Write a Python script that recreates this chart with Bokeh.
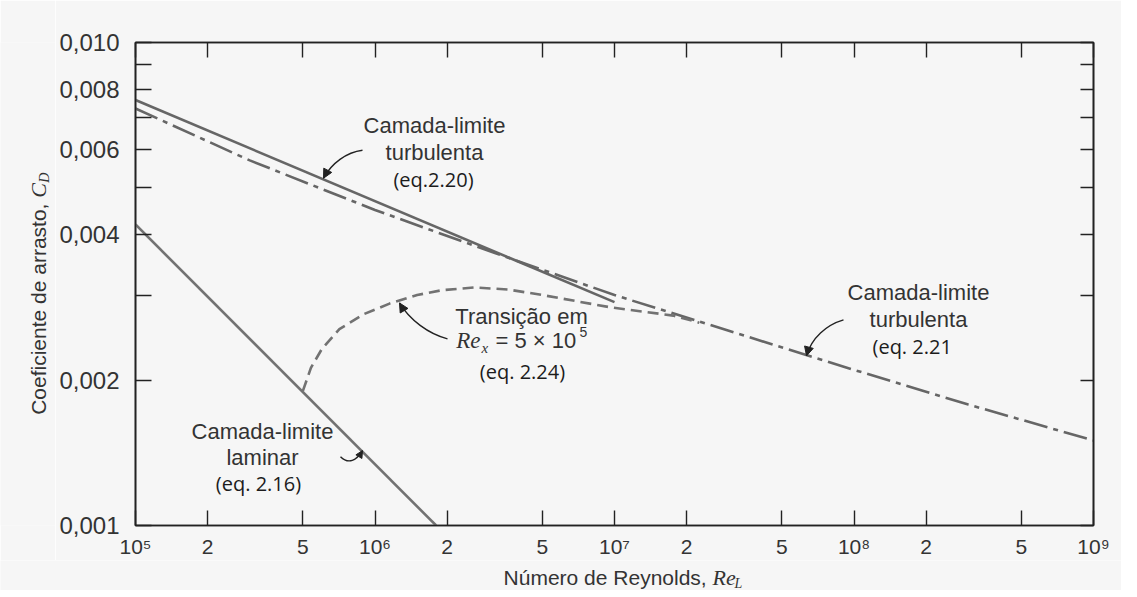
import math
from bokeh.plotting import figure
from bokeh.layouts import row, column
from bokeh.models import (FixedTicker, CustomJSTickFormatter, LogAxis, Label,
                          Arrow, NormalHead)
from bokeh.embed import file_html
from bokeh.resources import INLINE

# ---------------- data ----------------
x_ticks = [1e5, 2e5, 5e5, 1e6, 2e6, 5e6, 1e7, 2e7, 5e7, 1e8, 2e8, 5e8, 1e9]
x_tick_labels = ["10⁵", "2", "5", "10⁶", "2", "5", "10⁷", "2", "5",
                 "10⁸", "2", "5", "10⁹"]
y_ticks = [0.001, 0.002, 0.003, 0.004, 0.005, 0.006, 0.007, 0.008, 0.009, 0.010]
y_tick_labels = ["0,001", "0,002", "", "0,004", "", "0,006", "", "0,008", "", "0,010"]

# laminar boundary layer (eq. 2.16)
laminar_re = [1e5, 1.8e6]
laminar_cd = [0.0042, 0.001]

# turbulent boundary layer (eq. 2.20), solid
turb220_re = [1e5, 1e7]
turb220_cd = [0.0076, 0.0029]

# turbulent boundary layer (eq. 2.21), dash-dot
turb221_re = [1e5, 3e5, 1e6, 3e6, 1e7, 3e7, 1e8, 3e8, 1e9]
turb221_cd = [0.0073, 0.0057, 0.0045, 0.0037, 0.0030, 0.00253, 0.0021, 0.00178, 0.0015]

# transition at Re_x = 5e5 (eq. 2.24), dashed
trans_re = [5e5, 5.4e5, 6.0e5, 7.1e5, 9.0e5, 1.15e6, 1.5e6, 1.9e6, 2.6e6, 3.6e6,
            5e6, 9.6e6, 1.76e7, 2.26e7]
trans_cd = [0.0019, 0.00212, 0.00232, 0.00255, 0.00274, 0.00288, 0.00300, 0.00307,
            0.00311, 0.00308, 0.0030, 0.00283, 0.00272, 0.00263]

# ---------------- layout (page pixels) ----------------
W = 1121           # total width
WY = 55            # width of the y-title strip
HP = 560           # height of the main plot
HX = 30            # height of the x-title strip
FL, FR, FT, FB = 135, 1093, 42, 526   # frame edges on the page

BG = "#f6f6f6"
INK = "#333333"
CURVE = "#727272"


def rx(px):
    return 10 ** (5 + 4 * (px - FL) / (FR - FL))


def ry(py):
    return 10 ** (-3 + (FB - py) / (FB - FT))


p = figure(width=W - WY, height=HP, x_axis_type="log", y_axis_type="log",
           x_range=(1e5, 1e9), y_range=(0.001, 0.010),
           output_backend="svg", toolbar_location=None,
           min_border_left=FL - WY, min_border_right=W - FR,
           min_border_top=FT, min_border_bottom=HP - FB,
           background_fill_color=BG, border_fill_color=BG,
           outline_line_color="#222222", outline_line_width=1.6)
p.grid.visible = False

fmt_code = """
let best = 0, bd = Infinity;
for (let i = 0; i < ticks_v.length; i++) {
  const d = Math.abs(Math.log10(ticks_v[i]) - Math.log10(tick));
  if (d < bd) { bd = d; best = i; }
}
return labels[best];
"""


def style_axis(ax, major, minor, labels_for, tick_len, font_size):
    ax.ticker = FixedTicker(ticks=major, minor_ticks=minor)
    if major:
        ax.formatter = CustomJSTickFormatter(
            args=dict(ticks_v=major, labels=labels_for), code=fmt_code)
    ax.major_tick_in = tick_len
    ax.major_tick_out = 0
    ax.minor_tick_in = tick_len
    ax.minor_tick_out = 0
    ax.major_tick_line_color = "#222222"
    ax.minor_tick_line_color = "#222222"
    ax.major_tick_line_width = 1.4
    ax.minor_tick_line_width = 1.4
    ax.axis_line_color = "#222222"
    ax.axis_line_width = 1.6
    ax.major_label_text_font = "Liberation Sans"
    ax.major_label_text_color = INK
    ax.major_label_text_font_size = font_size


# bottom: every tick labelled
style_axis(p.xaxis[0], x_ticks, [], x_tick_labels, 15, "21px")
p.xaxis[0].major_label_standoff = 9

# left: labelled ticks as majors, the others as unlabelled minors
y_major = [t for t, s in zip(y_ticks, y_tick_labels) if s]
y_major_labels = [s for s in y_tick_labels if s]
y_minor = [t for t, s in zip(y_ticks, y_tick_labels) if not s]
style_axis(p.yaxis[0], y_major, y_minor, y_major_labels, 16, "24px")
p.yaxis[0].major_label_standoff = 16

# top and right: ticks only
top_ax = LogAxis()
style_axis(top_ax, [], x_ticks, [], 15, "12px")
p.add_layout(top_ax, "above")
right_ax = LogAxis()
style_axis(right_ax, [], y_ticks, [], 13, "12px")
p.add_layout(right_ax, "right")

# ---------------- curves ----------------
p.line(laminar_re, laminar_cd, line_color=CURVE, line_width=2.6)
p.line(turb220_re, turb220_cd, line_color="#666666", line_width=2.6)
p.line(turb221_re, turb221_cd, line_color="#666666", line_width=2.6,
       line_dash="24 6 5 6")
p.line(trans_re, trans_cd, line_color=CURVE, line_width=2.6, line_dash="11 6")

# ---------------- curved arrows ----------------
arrows = [
    # start, control0, control1, end   (page pixel positions)
    ((362, 150), (346, 152), (331, 163), (323, 178), 9),
    ((447, 339), (428, 334), (409, 320), (399, 303), 9),
    ((843, 320), (826, 325), (811, 338), (806, 356), 9),
    ((340, 457), (348, 465), (356, 461), (362, 451), 7),
]
for (s, c0, c1, e, hs) in arrows:
    p.bezier(x0=[rx(s[0])], y0=[ry(s[1])], x1=[rx(e[0])], y1=[ry(e[1])],
             cx0=[rx(c0[0])], cy0=[ry(c0[1])], cx1=[rx(c1[0])], cy1=[ry(c1[1])],
             line_color="#222222", line_width=1.4)
    p.add_layout(Arrow(end=NormalHead(size=hs, fill_color="#222222",
                                      line_color="#222222", line_width=1),
                       x_start=rx(c1[0]), y_start=ry(c1[1]),
                       x_end=rx(e[0]), y_end=ry(e[1]), line_alpha=0))


def lab(fig, conv, text, px, py, size, font="Liberation Sans", style="normal",
        align="center", color=INK, angle=0.0, xo=0, yo=0):
    x, y = conv(px, py)
    fig.add_layout(Label(x=x, y=y, text=text, text_font=font,
                         text_font_size=f"{size}px", text_font_style=style,
                         text_align=align, text_baseline="middle",
                         text_color=color, angle=angle, x_offset=xo, y_offset=yo))


def main_conv(px, py):
    return rx(px), ry(py)


EQ_FONT = "Open Sans"
EQ_COLOR = "#1c1c1c"

lab(p, main_conv, "Camada-limite", 434, 125, 22)
lab(p, main_conv, "turbulenta", 434, 152, 22)
lab(p, main_conv, "(eq.2.20)", 433, 179, 20, font=EQ_FONT, color=EQ_COLOR)

lab(p, main_conv, "Camada-limite", 918, 293, 22)
lab(p, main_conv, "turbulenta", 918, 320, 22)
lab(p, main_conv, "(eq. 2.21", 872, 347, 20, font=EQ_FONT, color=EQ_COLOR, align="left")

lab(p, main_conv, "Transição em", 521, 317, 22)
lab(p, main_conv, "Re", 480, 341, 23, font="Liberation Serif", style="italic", align="right")
lab(p, main_conv, "x", 481, 341, 15, font="Liberation Serif", style="italic", align="left", yo=-7)
lab(p, main_conv, "= 5 × 10", 495, 341, 22, align="left")
lab(p, main_conv, "5", 579, 341, 14, align="left", yo=9)
lab(p, main_conv, "(eq. 2.24)", 522, 372, 20, font=EQ_FONT, color=EQ_COLOR)

lab(p, main_conv, "Camada-limite", 262, 432, 22)
lab(p, main_conv, "laminar", 262, 458, 22)
lab(p, main_conv, "(eq. 2.16)", 258, 484, 20, font=EQ_FONT, color=EQ_COLOR)

# ---------------- axis-title strips ----------------
fy = figure(width=WY, height=HP, x_range=(0, WY), y_range=(HP, 0),
            output_backend="svg", toolbar_location=None, min_border=0,
            background_fill_color=BG, border_fill_color=BG, outline_line_color=None)
fy.axis.visible = False
fy.grid.visible = False

fx = figure(width=W, height=HX, x_range=(0, W), y_range=(HP + HX, HP),
            output_backend="svg", toolbar_location=None, min_border=0,
            background_fill_color=BG, border_fill_color=BG, outline_line_color=None)
fx.axis.visible = False
fx.grid.visible = False


def ident(px, py):
    return px, py


lab(fx, ident, "Número de Reynolds, ", 712, 577, 21, align="right")
lab(fx, ident, "Re", 712, 577, 22, font="Liberation Serif", style="italic", align="left")
lab(fx, ident, "L", 734, 577, 14, font="Liberation Serif", style="italic", align="left", yo=-6)

lab(fy, ident, "Coeficiente de arrasto, ", 38, 180, 21, align="right", angle=math.pi / 2)
lab(fy, ident, "C", 38, 180, 22, font="Liberation Serif", style="italic", align="left",
    angle=math.pi / 2)
lab(fy, ident, "D", 38, 180, 14, font="Liberation Serif", style="italic", align="left",
    angle=math.pi / 2, xo=6, yo=15)

layout = column(row(fy, p), fx)
open("out.html", "w").write(file_html(layout, INLINE))
